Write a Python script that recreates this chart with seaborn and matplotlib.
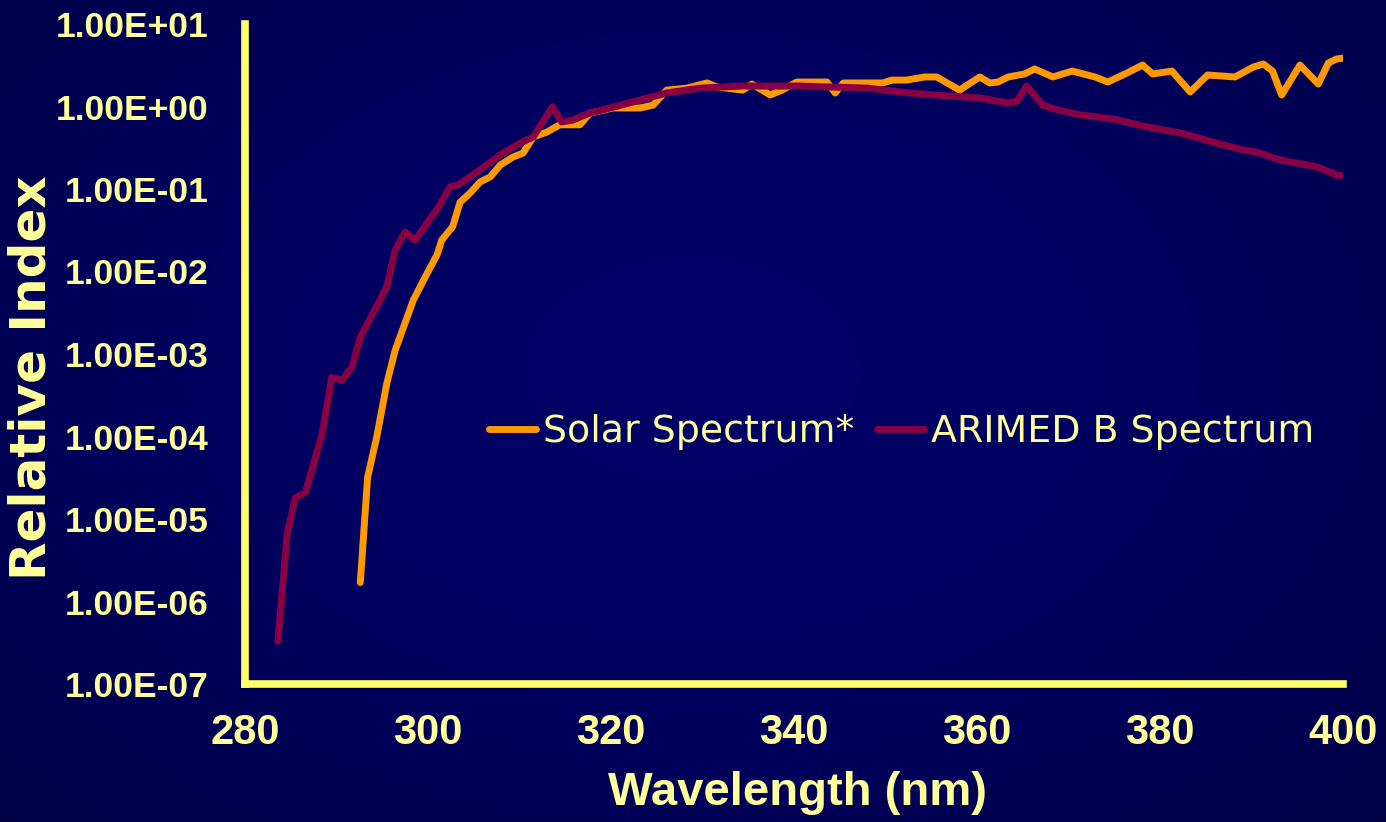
import matplotlib
matplotlib.use('Agg')
import matplotlib.pyplot as plt
import seaborn as sns
import numpy as np
import pandas as pd
from matplotlib.ticker import FuncFormatter, NullLocator

# values
arimed_nm = [283.6, 284.6, 285.5, 286.6, 288.4, 289.5, 290.6, 291.7, 292.6, 295.5,
             296.4, 297.5, 298.6, 301.3, 302.4, 303.3, 304.9, 306.4, 308.2, 310.1,
             311.5, 313.6, 314.6, 315.8, 317.7, 320.7, 323.2, 326.1, 329.7, 334.4,
             340.7, 348.0, 351.6, 355.2, 360.3, 363.4, 364.4, 365.4, 367.2, 368.5,
             371.3, 374.9, 378.6, 382.2, 385.8, 389.1, 390.6, 393.1, 397.2, 399.3, 400.2]
arimed_val = [3.3e-7, 6.5e-6, 1.8e-5, 2.1e-5, 1.05e-4, 5.2e-4, 4.8e-4, 7.0e-4, 1.6e-3, 6.5e-3,
              1.8e-2, 3.0e-2, 2.4e-2, 6.4e-2, 0.106, 0.112, 0.148, 0.195, 0.273, 0.361,
              0.427, 0.99, 0.65, 0.685, 0.834, 1.01, 1.2, 1.46, 1.67, 1.77,
              1.77, 1.67, 1.5, 1.38, 1.27, 1.1, 1.17, 1.77, 1.04, 0.93,
              0.79, 0.705, 0.565, 0.478, 0.37, 0.297, 0.28, 0.225, 0.185, 0.148, 0.144]

solar_nm = [292.6, 293.4, 294.4, 295.5, 296.4, 298.4, 299.7, 301.0, 301.5, 302.7,
            303.5, 304.6, 305.7, 306.8, 307.9, 309.3, 310.4, 311.5, 313.0, 314.4,
            316.6, 317.7, 320.2, 323.2, 324.6, 326.1, 328.3, 330.5, 331.6, 334.4,
            335.4, 337.4, 338.7, 340.3, 343.6, 344.5, 345.4, 349.7, 350.7, 352.3,
            354.3, 355.6, 358.1, 360.3, 361.4, 362.3, 363.4, 365.2, 366.3, 368.3,
            370.4, 372.9, 374.3, 376.4, 378.1, 379.2, 381.3, 383.3, 385.2, 388.2,
            390.2, 391.3, 392.3, 393.3, 395.3, 397.3, 398.4, 399.3, 400.2]
solar_val = [1.7e-6, 3.2e-5, 9.9e-5, 4.4e-4, 1.1e-3, 4.5e-3, 8.6e-3, 1.6e-2, 2.4e-2, 3.5e-2,
             6.9e-2, 8.95e-2, 0.122, 0.14, 0.195, 0.244, 0.273, 0.427, 0.49, 0.6,
             0.6, 0.83, 0.96, 0.96, 1.04, 1.58, 1.67, 1.93, 1.72, 1.58,
             1.87, 1.38, 1.58, 1.98, 1.98, 1.46, 1.93, 1.93, 2.09, 2.09,
             2.28, 2.28, 1.58, 2.28, 1.93, 1.98, 2.28, 2.48, 2.85, 2.28,
             2.69, 2.28, 1.98, 2.55, 3.18, 2.48, 2.69, 1.5, 2.41, 2.28,
             3.01, 3.27, 2.69, 1.38, 3.18, 1.87, 3.37, 3.77, 3.87]

series_names = ['Solar Spectrum*', 'ARIMED B Spectrum']
series_colors = ['#FF9900', '#880044']
x_ticks = [280, 300, 320, 340, 360, 380, 400]

df = pd.concat([
    pd.DataFrame({'nm': solar_nm, 'val': solar_val, 'series': series_names[0]}),
    pd.DataFrame({'nm': arimed_nm, 'val': arimed_val, 'series': series_names[1]}),
])

sns.set_style('white')
label_col = '#FFFF99'
axis_col = '#FFFF66'

fig = plt.figure(figsize=(13.86, 8.22), dpi=100)

# background gradient
bg = fig.add_axes([0, 0, 1, 1], zorder=-10)
yy, xx = np.mgrid[0:1:300j, 0:1:500j]
r = np.sqrt(((xx - 0.5) / 0.75) ** 2 + ((yy - 0.45) / 0.85) ** 2)
t = np.clip(r, 0, 1) ** 2
c_mid = np.array([0, 0, 102]) / 255
c_edge = np.array([0, 0, 64]) / 255
img = c_mid[None, None, :] * (1 - t[..., None]) + c_edge[None, None, :] * t[..., None]
bg.imshow(img, aspect='auto', extent=[0, 1, 0, 1], origin='upper')
bg.axis('off')

ax = fig.add_axes([245 / 1386, (822 - 684) / 822, (1343 - 245) / 1386, (684 - 24) / 822])
ax.patch.set_alpha(0)

sns.lineplot(data=df, x='nm', y='val', hue='series', hue_order=series_names,
             palette=dict(zip(series_names, series_colors)), estimator=None,
             linewidth=5, ax=ax, solid_capstyle='round', solid_joinstyle='round')

ax.set_yscale('log')
ax.set_xlim(280, 400)
ax.set_ylim(1e-7, 1e1)
ax.set_xticks(x_ticks)
ax.yaxis.set_major_formatter(FuncFormatter(lambda v, p: f'{v:.2E}'))
ax.yaxis.set_minor_locator(NullLocator())

for s in ['top', 'right']:
    ax.spines[s].set_visible(False)
for s in ['left', 'bottom']:
    ax.spines[s].set_color(axis_col)
    ax.spines[s].set_linewidth(5.5)
    ax.spines[s].set_capstyle('projecting')

ax.tick_params(axis='both', which='major', direction='out', length=7, width=5,
               color=axis_col, labelcolor=label_col)
ax.tick_params(axis='y', pad=19)
ax.tick_params(axis='x', pad=14)
for lab in ax.get_yticklabels():
    lab.set_fontfamily('Liberation Sans')
    lab.set_fontweight('bold')
    lab.set_fontsize(25.5)
for lab in ax.get_xticklabels():
    lab.set_fontfamily('Liberation Sans')
    lab.set_fontweight('bold')
    lab.set_fontsize(30)

ax.set_xlabel('Wavelength (nm)', fontsize=34, fontweight='bold',
              family='Liberation Sans', color=label_col, va='center')
ax.xaxis.set_label_coords(0.503, -0.165)
ax.set_ylabel('Relative Index', fontsize=36, fontweight='bold',
              family='DejaVu Sans', color=label_col, va='center')
ax.yaxis.set_label_coords(-0.194, 0.4636)

handles, labels = ax.get_legend_handles_labels()
leg = ax.legend(handles, labels, loc='center left', bbox_to_anchor=(0.205, 0.382),
                ncol=2, frameon=False, borderpad=0, handlelength=1.23,
                handletextpad=0.19, columnspacing=0.6,
                prop={'family': 'DejaVu Sans', 'size': 27.3})
for txt in leg.get_texts():
    txt.set_color(label_col)
for ln in leg.get_lines():
    ln.set_linewidth(5)
    ln.set_solid_capstyle('round')

fig.savefig('out.png', dpi=100)
